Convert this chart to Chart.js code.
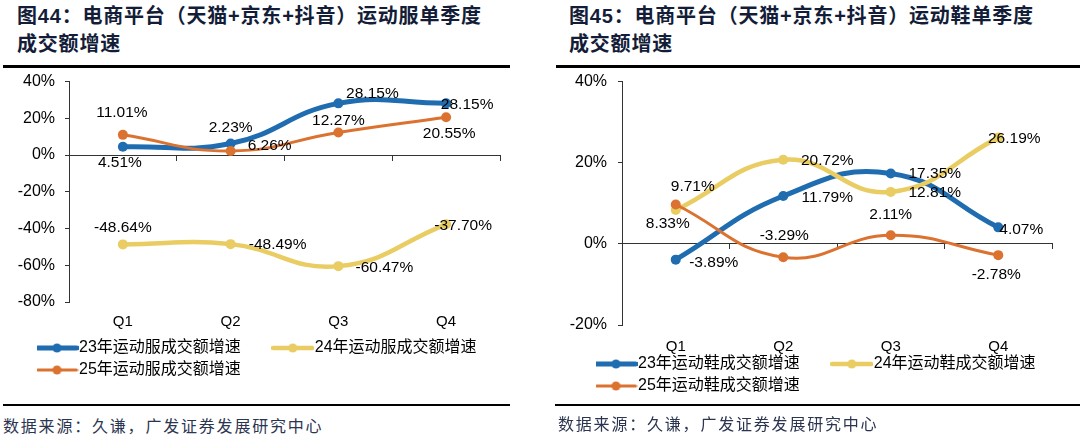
<!DOCTYPE html>
<html>
<head>
<meta charset="utf-8">
<script src="https://cdn.jsdelivr.net/npm/chart.js@4.4.1/dist/chart.umd.min.js"></script>
<style>
  body { margin: 0; width: 1080px; height: 442px; background: #fff; position: relative; overflow: hidden; }
  .title { position: absolute; top: 2px; font-family: "Liberation Sans", "Noto Sans CJK SC", sans-serif; font-weight: bold; font-size: 20px; line-height: 28px; letter-spacing: 0.8px; color: #141d38; white-space: nowrap; }
  .rule { position: absolute; height: 3px; background: #000; }
  .source { position: absolute; font-family: "Noto Sans CJK SC", sans-serif; font-size: 16px; letter-spacing: 1.8px; color: #2b3550; white-space: nowrap; }
  canvas { position: absolute; }
</style>
</head>
<body>
<canvas id="apparelChart" width="540" height="338" style="left:0; top:62px"></canvas>
<canvas id="shoesChart" width="540" height="362" style="left:540px; top:61px"></canvas>

<div class="title" style="left:17px">图44：电商平台（天猫+京东+抖音）运动服单季度<br>成交额增速</div>
<div class="rule" style="left:3px; top:65px; width:507px"></div>
<div class="rule" style="left:3px; top:404px; width:507px; height:2px"></div>
<div class="source" style="left:3px; top:413px">数据来源：久谦，广发证券发展研究中心</div>

<div class="title" style="left:569px">图45：电商平台（天猫+京东+抖音）运动鞋单季度<br>成交额增速</div>
<div class="rule" style="left:556px; top:65px; width:524px"></div>
<div class="rule" style="left:555px; top:404px; width:525px; height:2px"></div>
<div class="source" style="left:558px; top:411px">数据来源：久谦，广发证券发展研究中心</div>

<script>
// Quarters on the x axis
const quarters = ['Q1', 'Q2', 'Q3', 'Q4'];

// Apparel (运动服) growth, %
const apparel23 = [4.51, 6.26, 28.15, 28.15];
const apparel24 = [-48.64, -48.49, -60.47, -37.70];
const apparel25 = [11.01, 2.23, 12.27, 20.55];
const apparelNames = ['23年运动服成交额增速', '24年运动服成交额增速', '25年运动服成交额增速'];

// Shoes (运动鞋) growth, %
const shoes23 = [-3.89, 11.79, 17.35, 4.07];
const shoes24 = [8.33, 20.72, 12.81, 26.19];
const shoes25 = [9.71, -3.29, 2.11, -2.78];
const shoesNames = ['23年运动鞋成交额增速', '24年运动鞋成交额增速', '25年运动鞋成交额增速'];

// y axis ranges
const apparelRange = [-80, 40];
const shoesRange = [-20, 40];
const yStep = 20;

const BLUE = '#1f6db0';
const YELLOW = '#e9cc62';
const ORANGE = '#dc7230';
const FONT = '"Liberation Sans", "Noto Sans CJK SC", sans-serif';

// little line + dot sample for the legend
function lineMarker(color, width) {
    const c = document.createElement('canvas');
    c.width = 43; c.height = 12;
    const g = c.getContext('2d');
    g.strokeStyle = color; g.lineWidth = width; g.lineCap = 'round';
    g.beginPath(); g.moveTo(2, 6); g.lineTo(41, 6); g.stroke();
    g.fillStyle = color;
    g.beginPath(); g.arc(21.5, 6, 4.5, 0, Math.PI * 2); g.fill();
    return c;
}

// draws the value next to each point, offsets come from the plugin options
const pointLabels = {
    id: 'pointLabels',
    afterDatasetsDraw(chart, args, opts) {
        const ctx = chart.ctx;
        ctx.save();
        ctx.font = '15.5px ' + FONT;
        ctx.fillStyle = '#000';
        ctx.textAlign = 'center';
        ctx.textBaseline = 'middle';
        chart.data.datasets.forEach((ds, i) => {
            chart.getDatasetMeta(i).data.forEach((pt, j) => {
                const off = opts.offsets[i][j];
                ctx.fillText(ds.data[j].toFixed(2) + '%', pt.x + off[0], pt.y + off[1]);
            });
        });
        ctx.restore();
    }
};

// moves the legend box after layout (the legend sits further right than the axis labels)
const legendShift = {
    id: 'legendShift',
    afterLayout(chart, args, opts) {
        const l = chart.legend;
        l.left += opts.dx; l.right += opts.dx;
        l.top += opts.dy; l.bottom += opts.dy;
    }
};

function makeConfig(names, series, range, opt) {
    const colors = [BLUE, YELLOW, ORANGE];
    const widths = [5, 4.5, 3];
    return {
        type: 'line',
        data: {
            labels: quarters,
            datasets: series.map((values, i) => ({
                label: names[i],
                data: values,
                borderColor: colors[i],
                backgroundColor: colors[i],
                borderWidth: widths[i],
                pointRadius: 5,
                pointBorderWidth: 0,
                pointBackgroundColor: colors[i],
                tension: 0.45,
                order: 2 - i,
                xAxisID: 'x',
                yAxisID: 'y'
            }))
        },
        options: {
            responsive: false,
            animation: false,
            layout: { padding: opt.padding },
            scales: {
                x: {
                    type: 'category',
                    position: { y: 0 },
                    offset: true,
                    grid: { drawOnChartArea: false, drawTicks: true, tickLength: 5, offset: true, color: '#333' },
                    border: { color: '#333', width: 1 },
                    ticks: { display: false }
                },
                xl: {
                    type: 'category',
                    position: 'bottom',
                    offset: true,
                    grid: { display: false, drawTicks: false },
                    border: { display: false },
                    ticks: { padding: opt.qPad, color: '#000', font: { size: 15, family: FONT } }
                },
                y: {
                    min: range[0],
                    max: range[1],
                    grid: { drawOnChartArea: false, drawTicks: true, tickLength: 4, color: '#333' },
                    border: { color: '#333', width: 1 },
                    ticks: {
                        stepSize: yStep,
                        padding: opt.tickPad,
                        color: '#000',
                        font: { size: 16, family: FONT },
                        callback: v => v + '%'
                    },
                    afterFit: s => { s.width = opt.yWidth; }
                }
            },
            plugins: {
                tooltip: { enabled: false },
                legend: {
                    position: 'bottom',
                    align: 'start',
                    labels: {
                        usePointStyle: true,
                        pointStyleWidth: 28,
                        padding: 6,
                        color: '#000',
                        font: { size: 16, family: FONT },
                        generateLabels: chart => chart.data.datasets.map((ds, i) => ({
                            text: ds.label + (i === 0 ? '\u3000\u3000' : ''),
                            pointStyle: lineMarker(ds.borderColor, ds.borderWidth),
                            fillStyle: ds.borderColor,
                            strokeStyle: ds.borderColor,
                            lineWidth: 0,
                            hidden: false,
                            datasetIndex: i,
                            fontColor: '#000'
                        }))
                    }
                },
                legendShift: opt.legendShift,
                pointLabels: { offsets: opt.offsets }
            }
        },
        plugins: [legendShift, pointLabels]
    };
}

function initializeCharts() {
    new Chart(document.getElementById('apparelChart'), makeConfig(
        apparelNames, [apparel23, apparel24, apparel25], apparelRange, {
            padding: { left: 10, top: 0, right: 40, bottom: 4 },
            yWidth: 59, tickPad: 10, qPad: 11,
            legendShift: { dx: 27, dy: -8 },
            offsets: [
                [[-3, 16], [39, 2], [34, -10], [21, 1]],
                [[0, -17], [47, 1], [46, 2], [17, 1]],
                [[-1, -22], [0, -23], [0, -12], [3, 16]]
            ]
        }));

    new Chart(document.getElementById('shoesChart'), makeConfig(
        shoesNames, [shoes23, shoes24, shoes25], shoesRange, {
            padding: { left: 10, top: 0, right: 28, bottom: 0 },
            yWidth: 72, tickPad: 11, qPad: 13,
            legendShift: { dx: 46, dy: -19 },
            offsets: [
                [[38, 3], [44, 2], [44, 0], [23, 2]],
                [[-8, 14], [44, 1], [44, 1], [16, 1]],
                [[17, -18], [1, -21], [0, -21], [-2, 20]]
            ]
        }));
}

document.addEventListener('DOMContentLoaded', initializeCharts);
</script>
</body>
</html>
